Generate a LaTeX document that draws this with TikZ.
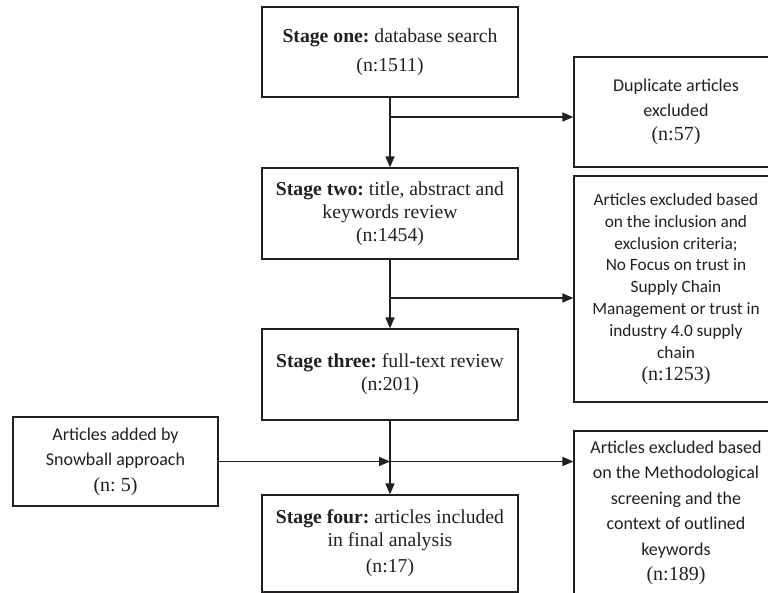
\documentclass[tikz,border=0pt]{standalone}
\usepackage{fontspec}
\setmainfont{Liberation Serif}
\newfontfamily\calib{Carlito}
\usetikzlibrary{arrows.meta}
\definecolor{ink}{HTML}{231F20}
\frenchspacing
\begin{document}
\begin{tikzpicture}[x=1pt,y=-1pt,
  box/.style={draw=ink,line width=1.2pt,rectangle,inner sep=0pt,align=center,text=ink},
  stagebox/.style={box,minimum width=256pt,font=\frenchspacing\fontsize{19.7}{23}\selectfont},
  sidebox/.style={box,minimum width=204pt,font=\calib\fontsize{18}{24.5}\selectfont},
  flow/.style={draw=ink,line width=1.6pt,-{Triangle[length=11pt,width=9pt]}}]
\clip (0,0) rectangle (768,593);

% main stages
\node[stagebox,minimum height=90pt] (s1) at (390,52)
  {\textbf{Stage one:} database search\\[6pt](n:1511)};
\node[stagebox,minimum height=91pt] (s2) at (390,213.5)
  {\textbf{Stage two:} title, abstract and\\keywords review\\(n:1454)};
\node[stagebox,minimum height=91pt] (s3) at (390,374.5)
  {\textbf{Stage three:} full-text review\\(n:201)};
\node[stagebox,minimum height=97pt] (s4) at (390,543.5)
  {\textbf{Stage four:} articles included\\in final analysis\\[3pt](n:17)};

% exclusion and addition boxes
\node[sidebox,minimum height=110pt] (dup) at (676,112)
  {Duplicate articles\\excluded\\{\rmfamily\fontsize{20}{24.5}\selectfont (n:57)}};
\node[sidebox,minimum height=226pt,font=\calib\fontsize{17.3}{21.9}\selectfont] (crit) at (676,289)
  {Articles excluded based\\on the inclusion and\\exclusion criteria;\\No Focus on trust in\\Supply Chain\\Management or trust in\\industry 4.0 supply\\chain\\{\rmfamily\fontsize{20}{21.9}\selectfont (n:1253)}};
\node[sidebox,minimum height=164pt,font=\calib\fontsize{18}{25.5}\selectfont] (meth) at (676,513)
  {Articles excluded based\\on the Methodological\\screening and the\\context of outlined\\keywords\\{\rmfamily\fontsize{20}{25.5}\selectfont (n:189)}};
\node[box,minimum width=205pt,minimum height=89pt,font=\calib\fontsize{18}{25.5}\selectfont] (snow) at (115.5,461.5)
  {Articles added by\\Snowball approach\\{\rmfamily\fontsize{20}{25.5}\selectfont (n: 5)}};

% branch points on the main flow
\coordinate (b1) at (390,117);
\coordinate (b2) at (390,298);
\coordinate (b3) at (s3.south |- snow.east);

% connectors
\draw[flow] (s1.south) -- (s2.north);
\draw[flow] (s2.south) -- (s3.north);
\draw[flow] (s3.south) -- (s4.north);
\draw[flow] (b1) -- (b1 -| dup.west);
\draw[flow] (b2) -- (b2 -| crit.west);
\draw[flow] (snow.east) -- (b3);
\draw[flow] (b3) -- (b3 -| meth.west);
\end{tikzpicture}
\end{document}
